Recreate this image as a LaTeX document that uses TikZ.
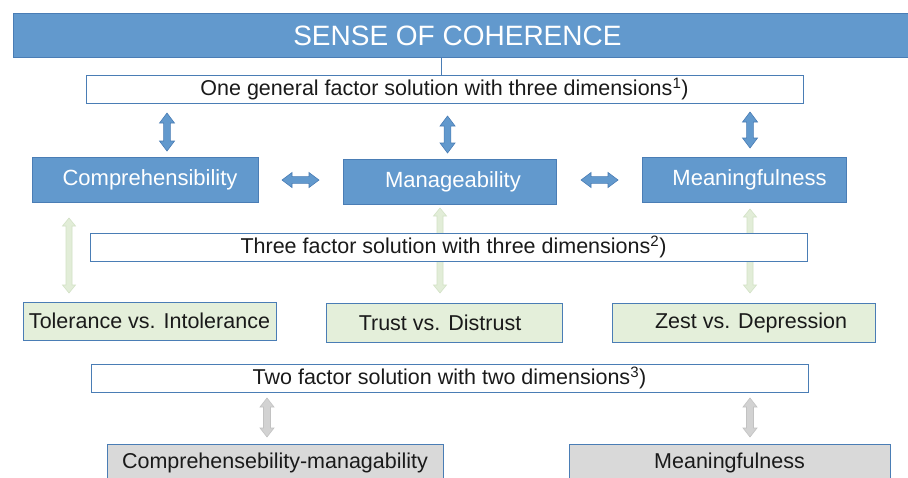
\documentclass[tikz,border=0pt]{standalone}
\usepackage{fontspec}
\setmainfont{Liberation Sans}
\definecolor{bfill}{HTML}{6299CD}
\definecolor{bdraw}{HTML}{4A7DB5}
\definecolor{gfill}{HTML}{E4EFDA}
\definecolor{garrow}{HTML}{E2EDD8}
\definecolor{garrowd}{HTML}{D3E2C6}
\definecolor{grfill}{HTML}{D9D9D9}
\definecolor{grarrow}{HTML}{D2D2D2}
\definecolor{grarrowd}{HTML}{C2C2C2}
\definecolor{txt}{HTML}{1A1A1A}
\newcommand\vdblarrow[7]{% x, ytop, ybottom, shaft half, head half, head length, style
  \path[#7] (#1,#2) -- ({#1+#5},{#2+#6}) -- ({#1+#4},{#2+#6}) -- ({#1+#4},{#3-#6}) -- ({#1+#5},{#3-#6}) -- (#1,#3)
    -- ({#1-#5},{#3-#6}) -- ({#1-#4},{#3-#6}) -- ({#1-#4},{#2+#6}) -- ({#1-#5},{#2+#6}) -- cycle;}
\newcommand\hdblarrow[7]{% y, xleft, xright, shaft half, head half, head length, style
  \path[#7] (#2,#1) -- ({#2+#6},{#1-#5}) -- ({#2+#6},{#1-#4}) -- ({#3-#6},{#1-#4}) -- ({#3-#6},{#1-#5}) -- (#3,#1)
    -- ({#3-#6},{#1+#5}) -- ({#3-#6},{#1+#4}) -- ({#2+#6},{#1+#4}) -- ({#2+#6},{#1+#5}) -- cycle;}
\tikzset{
  banner/.style={draw=bdraw, fill=bfill, line width=0.8pt, text=white, font=\fontsize{28}{30}\selectfont, inner sep=0pt, anchor=north west},
  wbox/.style={draw=bdraw, fill=white, line width=0.8pt, text=txt, font=\fontsize{21.5}{24}\selectfont, inner sep=0pt, minimum width=717pt, minimum height=28pt},
  bbox/.style={draw=bdraw, fill=bfill, line width=0.8pt, text=white, font=\fontsize{22}{24}\selectfont, inner sep=0pt, minimum height=45pt},
  gbox/.style={draw=bdraw, fill=gfill, line width=0.8pt, text=txt, font=\fontsize{21.5}{24}\selectfont, inner sep=0pt},
  grbox/.style={draw=bdraw, fill=grfill, line width=0.8pt, text=txt, font=\fontsize{21.5}{24}\selectfont, inner sep=0pt, minimum height=38pt},
  barrow/.style={draw=bdraw, fill=bfill, line width=0.6pt, line join=miter},
  larrow/.style={draw=garrowd, fill=garrow, line width=0.6pt},
  grarrowst/.style={draw=grarrowd, fill=grarrow, line width=0.6pt},
}
\begin{document}
\begin{tikzpicture}[x=1pt,y=-1pt]
\useasboundingbox (0,0) rectangle (908,477);
\fill[white] (0,0) rectangle (908,477);
\begin{scope}
\clip (0,0) rectangle (908,477);
% banner
\node[banner, minimum width=903pt, minimum height=44pt] (soc) at (13,13) {\hspace*{-15pt}SENSE OF COHERENCE};
% level 1
\node[wbox] (g1) at (444.5,89) {One general factor solution with three dimensions\textsuperscript{1})};
\coordinate (lx) at (441,0);
\draw[bdraw, line width=1pt] (soc.south -| lx) -- (g1.north -| lx);
\node[bbox, minimum width=226pt] (comp) at (145,179.5) {\hspace*{10pt}Comprehensibility};
\node[bbox, minimum width=213pt] (man) at (449.5,181.5) {\hspace*{7pt}Manageability};
\node[bbox, minimum width=204pt] (mean) at (744,179.5) {\hspace*{11pt}Meaningfulness};
\vdblarrow{167}{113}{151}{3.4}{7.5}{10}{barrow}
\vdblarrow{447.5}{116}{153}{3.4}{7.5}{10}{barrow}
\vdblarrow{750}{112}{148}{3.4}{7.5}{10}{barrow}
\hdblarrow{180}{282}{319}{3.4}{7.5}{10}{barrow}
\hdblarrow{180}{581}{618}{3.4}{7.5}{10}{barrow}
% level 2
\vdblarrow{69}{218}{293}{3}{6.5}{8}{larrow}
\vdblarrow{440}{208}{293}{3}{6.5}{8}{larrow}
\vdblarrow{750}{209}{293}{3}{6.5}{8}{larrow}
\node[wbox] (g2) at (448.5,247) {\hspace*{10pt}Three factor solution with three dimensions\textsuperscript{2})};
\node[gbox, minimum width=253pt, minimum height=38pt] (tol) at (149.5,321) {Tolerance vs. Intolerance};
\node[gbox, minimum width=236pt, minimum height=39pt] (tru) at (444,322.5) {\hspace*{-8pt}Trust vs. Distrust};
\node[gbox, minimum width=263pt, minimum height=39pt] (zest) at (743.5,322.5) {\hspace*{15pt}Zest vs. Depression};
% level 3
\node[wbox] (g3) at (449.5,378) {Two factor solution with two dimensions\textsuperscript{3})};
\vdblarrow{267}{398}{437}{3.5}{7}{9}{grarrowst}
\vdblarrow{750}{398}{437}{3.5}{7}{9}{grarrowst}
\node[grbox, minimum width=336pt] (cm) at (275,463) {Comprehensebility-managability};
\node[grbox, minimum width=321pt] (m2) at (729.5,463) {Meaningfulness};
\end{scope}
\end{tikzpicture}
\end{document}
